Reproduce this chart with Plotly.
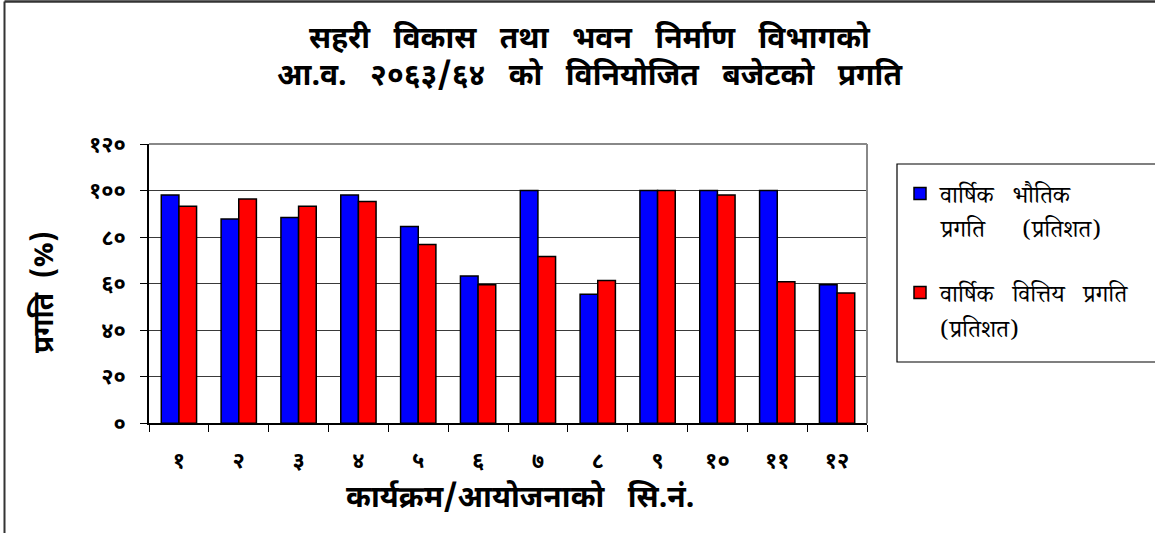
import plotly.graph_objects as go

W, H = 1155, 533

categories = ["१", "२", "३", "४", "५", "६", "७", "८", "९", "१०", "११", "१२"]
physical = [98.1, 87.8, 88.4, 98.1, 84.6, 63.3, 100, 55.4, 100, 100, 100, 59.5]
financial = [93.3, 96.4, 93.3, 95.3, 76.8, 59.5, 71.7, 61.4, 100, 98.1, 60.8, 56.0]
ytick_vals = [0, 20, 40, 60, 80, 100, 120]
ytick_text = ["०", "२०", "४०", "६०", "८०", "१००", "१२०"]

# legend labels: first line shown in the legend entry, second line wrapped below it
series_names = [["वार्षिक भौतिक", "प्रगति   (प्रतिशत)"], ["वार्षिक वित्तिय प्रगति", "(प्रतिशत)"]]
title_lines = ["सहरी विकास तथा भवन निर्माण विभागको", "आ.व. २०६३/६४ को विनियोजित बजेटको प्रगति"]
x_title = "कार्यक्रम/आयोजनाको सि.नं."
y_title = "प्रगति (%)"

FONT = "Noto Sans Devanagari, Lohit Devanagari, Noto Sans, sans-serif"
SERIF = "Noto Serif Devanagari, Noto Sans Devanagari, serif"
LEG_SIZE = 24


def wide(s, n=3):
    return s.replace(" ", "\u00a0" * n)


def px(x):
    return x / W


def py(y):
    return 1 - y / H


fig = go.Figure()
fig.add_trace(go.Bar(x=categories, y=physical, name=wide(series_names[0][0], 3), legend="legend",
                     marker=dict(color="#0000FF", line=dict(color="black", width=1.5))))
fig.add_trace(go.Bar(x=categories, y=financial, name=wide(series_names[1][0], 3), legend="legend2",
                     marker=dict(color="#FF0000", line=dict(color="black", width=1.5))))

x0, x1 = 149, 867
y0, y1 = 144, 423.3

leg_common = dict(xanchor="left", yanchor="middle", bgcolor="rgba(0,0,0,0)", borderwidth=0,
                  font=dict(size=LEG_SIZE, family=SERIF), valign="middle", itemwidth=30)

fig.update_layout(
    width=W, height=H,
    margin=dict(l=0, r=0, t=0, b=0, autoexpand=False),
    paper_bgcolor="white", plot_bgcolor="white",
    font=dict(family=FONT, color="black"),
    barmode="group", bargap=0.41, bargroupgap=0,
    xaxis=dict(domain=[px(x0), px(x1)], type="category", showline=True, linecolor="black",
               linewidth=1.5, ticks="outside", tickson="boundaries", ticklen=7, tickcolor="black",
               tickwidth=1, tickfont=dict(size=22, family=FONT, weight="bold"), showgrid=False,
               ticklabelstandoff=17, automargin=False),
    yaxis=dict(domain=[py(y1), py(y0)], range=[0, 120], tickvals=ytick_vals, ticktext=ytick_text,
               showline=True, linecolor="black", linewidth=1.5, ticks="outside", ticklen=7,
               tickcolor="black", showgrid=True, gridcolor="#3a3a3a", gridwidth=1,
               tickfont=dict(size=22, family=FONT, weight="bold"), ticklabelstandoff=10,
               zeroline=False, automargin=False),
    legend=dict(x=px(900), y=py(194), **leg_common),
    legend2=dict(x=px(900), y=py(293), **leg_common),
    showlegend=True,
)

annotations = [
    dict(text="<b>" + wide(title_lines[0]) + "</b>", x=px(590), y=py(40), xref="paper", yref="paper",
         showarrow=False, xanchor="center", yanchor="middle", font=dict(size=30, family=FONT)),
    dict(text="<b>" + wide(title_lines[1]) + "</b>", x=px(590), y=py(77), xref="paper", yref="paper",
         showarrow=False, xanchor="center", yanchor="middle", font=dict(size=30, family=FONT)),
    dict(text="<b>" + wide(x_title, 3) + "</b>", x=px(520), y=py(499), xref="paper", yref="paper",
         showarrow=False, xanchor="center", yanchor="middle", font=dict(size=30, family=FONT)),
    dict(text="<b>" + wide(y_title, 2) + "</b>", x=px(45), y=py(292), xref="paper", yref="paper",
         showarrow=False, xanchor="center", yanchor="middle", textangle=-90,
         font=dict(size=28, family=FONT)),
    dict(text=wide(series_names[0][1], 2), x=px(938), y=py(234), xref="paper", yref="paper",
         showarrow=False, xanchor="left", yanchor="middle", font=dict(size=LEG_SIZE, family=SERIF)),
    dict(text=wide(series_names[1][1], 2), x=px(938), y=py(333), xref="paper", yref="paper",
         showarrow=False, xanchor="left", yanchor="middle", font=dict(size=LEG_SIZE, family=SERIF)),
]
fig.update_layout(annotations=annotations)

shapes = [
    dict(type="line", xref="paper", yref="paper", x0=px(x0), x1=px(x1), y0=py(y0), y1=py(y0),
         line=dict(color="#888888", width=2)),
    dict(type="line", xref="paper", yref="paper", x0=px(x1), x1=px(x1), y0=py(y0), y1=py(y1),
         line=dict(color="#888888", width=2)),
    dict(type="rect", xref="paper", yref="paper", x0=px(897), x1=px(1170), y0=py(164), y1=py(362),
         line=dict(color="black", width=1.2), fillcolor="rgba(0,0,0,0)"),
    dict(type="line", xref="paper", yref="paper", x0=px(4.5), x1=px(4.5), y0=0, y1=py(1.5),
         line=dict(color="#333333", width=2)),
    dict(type="line", xref="paper", yref="paper", x0=px(4.5), x1=1, y0=py(1.5), y1=py(1.5),
         line=dict(color="#333333", width=2.5)),
]
fig.update_layout(shapes=shapes)

fig.write_html("out.html", config={"displayModeBar": False},
               post_script="document.body.style.margin='0';")
